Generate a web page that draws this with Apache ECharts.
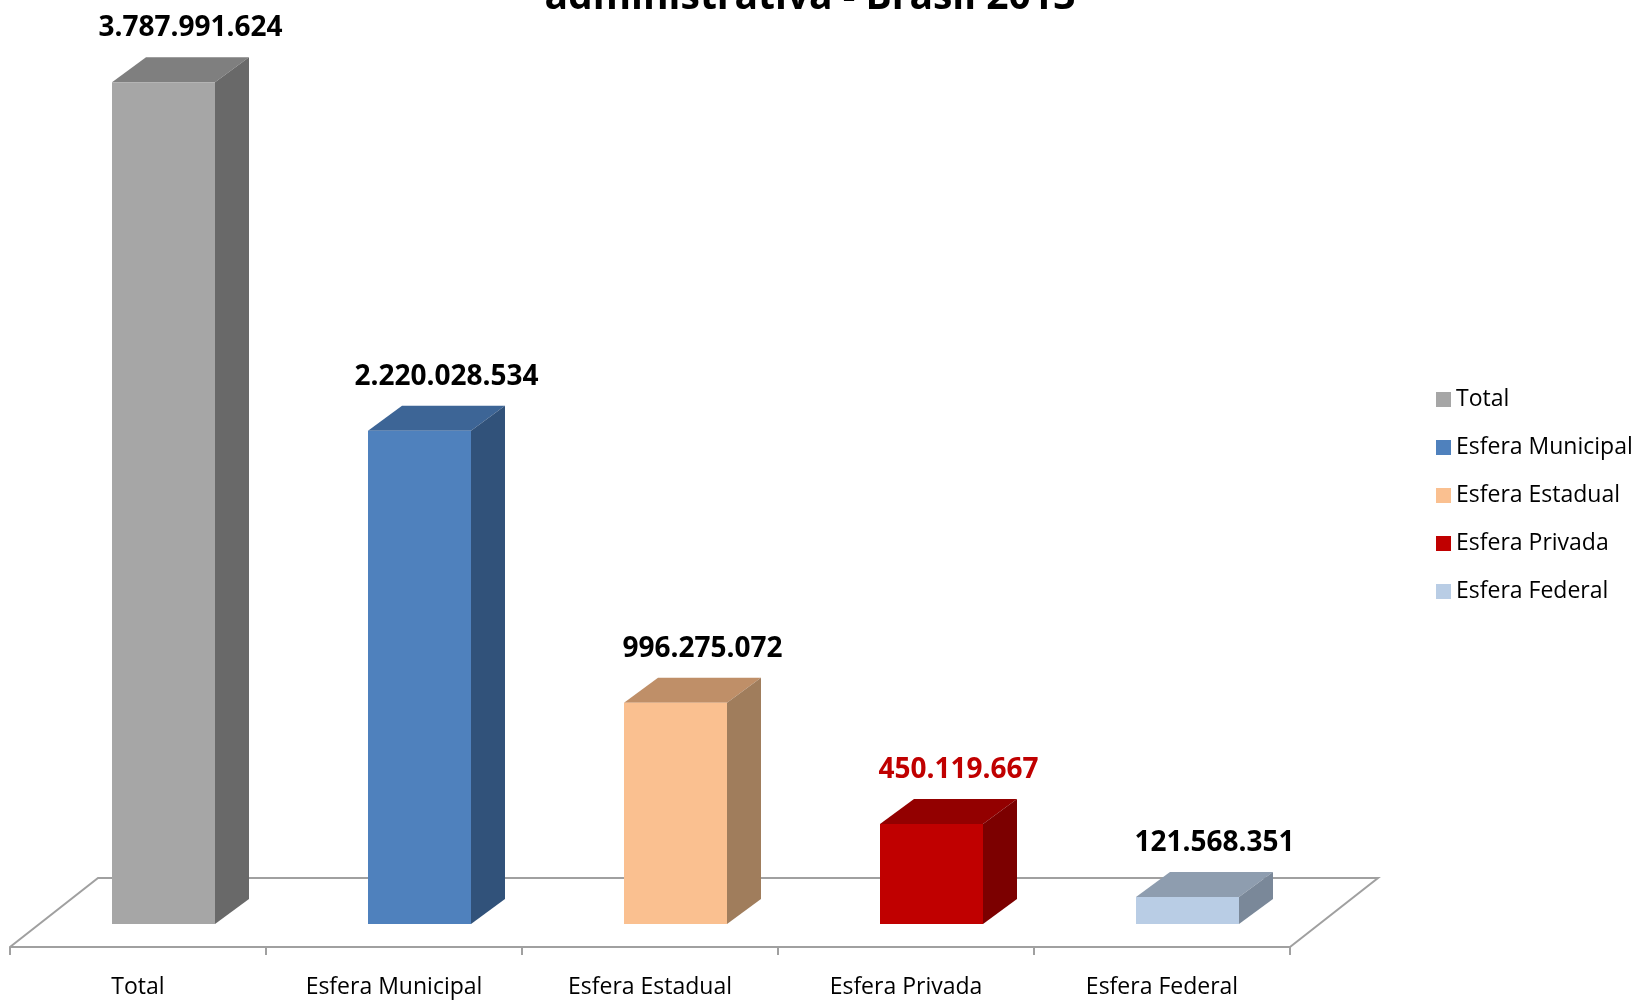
<!DOCTYPE html>
<html>
<head>
<meta charset="utf-8">
<script src="https://cdn.jsdelivr.net/npm/echarts@6/dist/echarts.min.js"></script>
<style>
  html, body { margin: 0; padding: 0; background: #fff; }
  #container { width: 1638px; height: 1000px; }
</style>
</head>
<body>
<div id="container"></div>
<script>
// dados
var categorias = ['Total', 'Esfera Municipal', 'Esfera Estadual', 'Esfera Privada', 'Esfera Federal'];
var valores = [3787991624, 2220028534, 996275072, 450119667, 121568351];
var rotulos = ['3.787.991.624', '2.220.028.534', '996.275.072', '450.119.667', '121.568.351'];

// cores: frente, topo, lateral
var corFrente = ['#A6A6A6', '#4F81BD', '#FAC090', '#C00000', '#B9CDE5'];
var corTopo = ['#7F7F7F', '#3D6596', '#BF8F68', '#930000', '#8E9DAF'];
var corLado = ['#696969', '#31527A', '#A07D5C', '#7C0000', '#7A8899'];
var corRotulo = ['#000', '#000', '#000', '#C00000', '#000'];

var FONT = '"Open Sans", "Noto Sans", sans-serif';

var dom = document.getElementById('container');
var myChart = echarts.init(dom);

// caixa 3D
var profX = 34, profY = -25;      // profundidade da caixa
var desX = 25.5, desY = -23;      // deslocamento da frente da caixa sobre o piso

function renderCaixa(params, api) {
    var i = api.value(0);
    var p0 = api.coord([i, 0]);
    var p1 = api.coord([i, api.value(1)]);
    var bw = api.size([1, 0])[0];
    var w = bw * 103 / 256;
    var xl = p0[0] - w / 2 + desX;
    var xr = xl + w;
    var yb = p0[1] + desY;
    var yt = p1[1] + desY;
    return {
        type: 'group',
        children: [
            {
                type: 'polygon',
                shape: {points: [[xl, yt], [xr, yt], [xr + profX, yt + profY], [xl + profX, yt + profY]]},
                style: {fill: corTopo[i]}
            },
            {
                type: 'polygon',
                shape: {points: [[xr, yt], [xr + profX, yt + profY], [xr + profX, yb + profY], [xr, yb]]},
                style: {fill: corLado[i]}
            },
            {
                type: 'rect',
                shape: {x: xl, y: yt, width: w, height: yb - yt},
                style: {fill: corFrente[i]}
            },
            {
                type: 'text',
                x: xl + w / 2 + 27,
                y: yt - 54,
                style: {
                    text: rotulos[i],
                    fill: corRotulo[i],
                    font: 'bold 28px ' + FONT,
                    align: 'center',
                    verticalAlign: 'middle'
                }
            }
        ]
    };
}

function renderPiso(params, api) {
    var c0 = api.coord([0, 0]);
    var c4 = api.coord([categorias.length - 1, 0]);
    var bw = api.size([1, 0])[0];
    var x0 = c0[0] - bw / 2, x1 = c4[0] + bw / 2, y = c0[1];
    var fx = 88, fy = -69;
    return {
        type: 'polyline',
        shape: {points: [[x0, y], [x0 + fx, y + fy], [x1 + fx, y + fy], [x1, y]]},
        style: {stroke: '#A0A0A0', lineWidth: 2, fill: null}
    };
}

var series = [{
    type: 'custom',
    name: 'piso',
    z: 1,
    silent: true,
    renderItem: renderPiso,
    data: [[0, 0]],
    clip: false
}];

categorias.forEach(function (c, i) {
    series.push({
        type: 'custom',
        name: c,
        z: 3,
        itemStyle: {color: corFrente[i]},
        renderItem: renderCaixa,
        encode: {x: 0, y: 1},
        data: [[i, valores[i]]],
        clip: false
    });
});

var option = {
    animation: false,
    backgroundColor: '#fff',
    grid: {left: 10, right: 348, top: 58.2, bottom: 53},
    xAxis: {
        type: 'category',
        data: categorias,
        boundaryGap: true,
        axisLine: {lineStyle: {color: '#A0A0A0', width: 2}},
        axisTick: {show: true, length: 8, lineStyle: {color: '#A0A0A0', width: 2}},
        axisLabel: {color: '#000', fontSize: 23, fontFamily: FONT, margin: 29, interval: 0}
    },
    yAxis: {
        type: 'value',
        min: 0,
        max: 4000000000,
        show: false,
        splitLine: {show: false}
    },
    legend: {
        orient: 'vertical',
        left: 1431,
        top: 383,
        itemWidth: 15,
        itemHeight: 15,
        itemGap: 25,
        icon: 'rect',
        data: categorias,
        textStyle: {color: '#000', fontSize: 23, fontFamily: FONT}
    },
    graphic: [{
        type: 'text',
        x: 810,
        y: -2,
        style: {
            text: 'administrativa - Brasil 2013',
            font: 'bold 39px ' + FONT,
            fill: '#000',
            align: 'center',
            verticalAlign: 'middle'
        }
    }],
    series: series
};

myChart.setOption(option, true);
</script>
</body>
</html>
